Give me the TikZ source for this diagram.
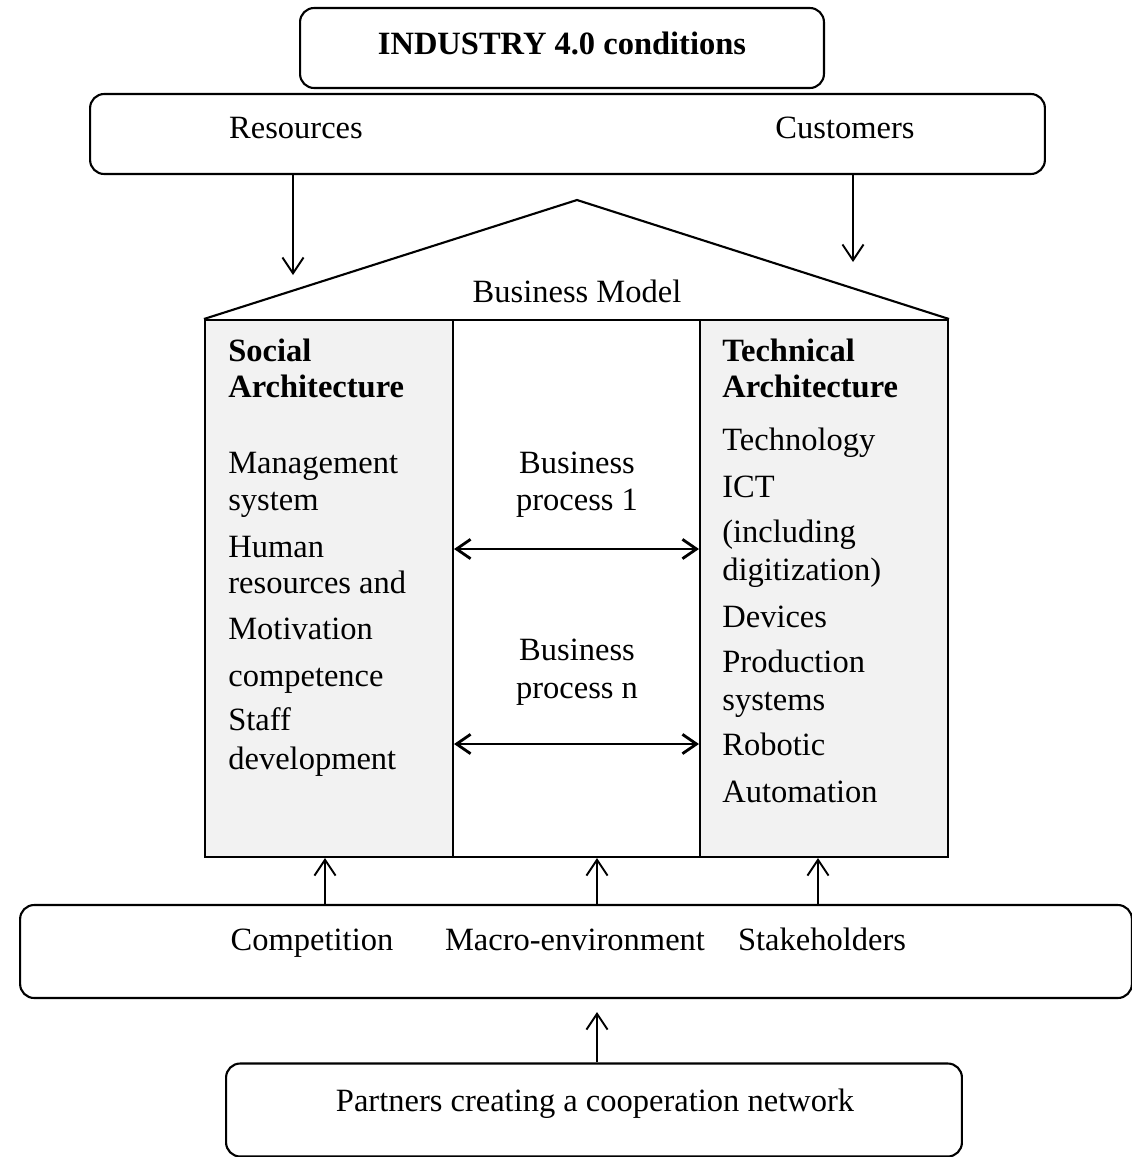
\documentclass[tikz,border=0pt]{standalone}
\usepackage{fontspec}
\setmainfont{Liberation Serif}
\usetikzlibrary{arrows.meta}
\definecolor{pillar}{HTML}{F2F2F2}
\tikzstyle{frame}=[draw, line width=1.2pt, rounded corners=8pt, inner sep=0pt]
\tikzstyle{column}=[draw, line width=1.2pt, inner sep=0pt, minimum width=4.96cm, minimum height=10.74cm]
\tikzstyle{txt}=[inner sep=0pt, font=\fontsize{18.5}{21}\selectfont]
\tikzstyle{flow}=[line width=1.1pt, -{Straight Barb[length=9pt,width=12pt]}]
\tikzstyle{twoway}=[line width=1.6pt, {Straight Barb[length=8pt,width=11pt]}-{Straight Barb[length=8pt,width=11pt]}]
\newcommand{\txt}{\node[txt]}

\begin{document}
\begin{tikzpicture}[x=0.02cm, y=-0.02cm]
    \useasboundingbox (0,0) rectangle (1132,1157);
    % outer frames
    \node[frame, minimum width=10.48cm, minimum height=1.6cm] (ind) at (562,48) {};
    \node[frame, minimum width=19.1cm, minimum height=1.6cm] (res) at (567.5,134) {};
    \node[frame, minimum width=22.24cm, minimum height=1.86cm] (env) at (576,951.5) {};
    \node[frame, minimum width=14.72cm, minimum height=1.86cm] (part) at (594,1110) {};
    \txt[anchor=base] (indt) at (562,54) {\textbf{INDUSTRY 4.0 conditions}};
    \txt[anchor=base] (rest) at (296,138) {Resources};
    \txt[anchor=base] (cust) at (845,138) {Customers};
    \txt[anchor=base] (comp) at (312,950) {Competition};
    \txt[anchor=base] (macro) at (575,950) {Macro-environment};
    \txt[anchor=base] (stake) at (822,950) {Stakeholders};
    \txt[anchor=base] (partt) at (595,1111) {Partners creating a cooperation network};

    % house
    \node[column, fill=pillar] (social) at (329,588.5) {};
    \node[column, fill=white] (middle) at (577,588.5) {};
    \node[column, fill=pillar] (technical) at (824,588.5) {};
    \coordinate (apex) at (577,200);
    \draw[line width=1.2pt, line join=miter] (social.north west) -- (apex) -- (technical.north east);
    \txt[anchor=base] (bm) at (577,302) {Business Model};

    \foreach \y/\t in {361/\textbf{Social}, 397/\textbf{Architecture}, 473/Management,
        510/system, 557/Human, 593/resources and, 639/Motivation, 686/competence,
        730/Staff, 769/development}
        \txt[anchor=base west] at (228,\y) {\t};
    \foreach \y/\t in {361/\textbf{Technical}, 397/\textbf{Architecture}, 450/Technology,
        497/ICT, 542/(including, 580/digitization), 627/Devices, 672/Production,
        710/systems, 755/Robotic, 802/Automation}
        \txt[anchor=base west] at (722,\y) {\t};
    \foreach \y/\t in {473/Business, 510/process 1, 660/Business, 698/process n}
        \txt[anchor=base] at (577,\y) {\t};

    % connectors
    \coordinate (resEnd) at (293,275);
    \coordinate (custEnd) at (853,262);
    \coordinate (partEnd) at (597,1012);
    \coordinate (upA) at (325,0);
    \coordinate (upB) at (597,0);
    \coordinate (upC) at (818,0);
    \coordinate (bp1) at (0,549);
    \coordinate (bpn) at (0,744);
    \draw[flow] (res.south -| resEnd) -- (resEnd);
    \draw[flow] (res.south -| custEnd) -- (custEnd);
    \draw[flow] (env.north -| upA) -- (social.south -| upA);
    \draw[flow] (env.north -| upB) -- (middle.south -| upB);
    \draw[flow] (env.north -| upC) -- (technical.south -| upC);
    \draw[flow] (part.north -| partEnd) -- (partEnd);
    \draw[twoway] (social.east |- bp1) -- (technical.west |- bp1);
    \draw[twoway] (social.east |- bpn) -- (technical.west |- bpn);
\end{tikzpicture}
\end{document}
